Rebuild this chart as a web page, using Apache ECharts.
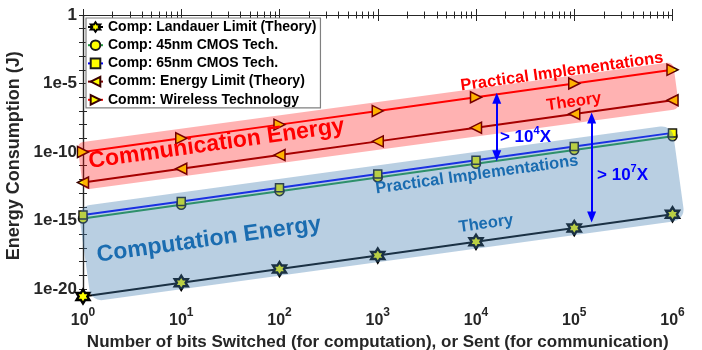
<!DOCTYPE html>
<html><head><meta charset="utf-8">
<script src="https://cdn.jsdelivr.net/npm/echarts@6/dist/echarts.min.js"></script>
<style>html,body{margin:0;padding:0;background:#fff}#c{width:702px;height:350px}</style>
</head><body><div id="c"></div>
<script>
// ---------- data ----------
const bitsSwitched   = [1, 10, 100, 1000, 10000, 100000, 1000000];
const landauerLimit  = [2.87e-21, 2.87e-20, 2.87e-19, 2.87e-18, 2.87e-17, 2.87e-16, 2.87e-15];
const cmos45nm       = [1.4e-15, 1.4e-14, 1.4e-13, 1.4e-12, 1.4e-11, 1.4e-10, 1.4e-9];
const cmos65nm       = [2.5e-15, 2.5e-14, 2.5e-13, 2.5e-12, 2.5e-11, 2.5e-10, 2.5e-9];
const commLimit      = [6e-13, 6e-12, 6e-11, 6e-10, 6e-9, 6e-8, 6e-7];
const wirelessTech   = [1e-10, 1e-9, 1e-8, 1e-7, 1e-6, 1e-5, 1e-4];
const xTickExponents = [0, 1, 2, 3, 4, 5, 6];
const yTickLabels    = ['1', '1e-5', '1e-10', '1e-15', '1e-20'];
const yTickLabelExp  = [0, -5, -10, -15, -20];
const yMinEnergy = 2.87e-21, yMaxEnergy = 1;

// ---------- annotation layout (log10 coordinates) ----------
const bands = [
  {tl: [-0.061, -9.33], tr: [6.005, -3.43], bl: [0.0, -12.755], color: 'rgba(255,0,0,0.30)', r: 6},
  {tl: [-0.051, -13.99], tr: [5.995, -8.02], bl: [0.081, -20.92], color: 'rgba(70,130,180,0.38)', r: 12}
];
const notes = [
  {text: 'Communication Energy', at: [1.359, -9.402], color: '#ff0000', size: 23, rot: true},
  {text: 'Computation Energy', at: [1.282, -16.40], color: '#1a6cb0', size: 23, rot: true},
  {text: 'Practical Implementations', at: [4.875, -4.155], color: '#ff0000', size: 16.5, rot: true},
  {text: 'Theory', at: [4.997, -6.341], color: '#ff0000', size: 16.5, rot: true},
  {text: 'Practical Implementations', at: [4.010, -11.662], color: '#1a6cb0', size: 16.5, rot: true},
  {text: 'Theory', at: [4.102, -15.233], color: '#1a6cb0', size: 16.5, rot: true},
  {rich: ['> 10', '4', 'X'], at: [4.244, -8.819], color: '#0000ff', size: 17, rot: false},
  {rich: ['> 10', '7', 'X'], at: [5.232, -11.589], color: '#0000ff', size: 17, rot: false}
];
const arrows = [
  [[4.211, -6.07], [4.211, -10.28]],
  [[5.177, -7.52], [5.177, -14.74]]
];

const FONT = '"Liberation Sans", Arial, sans-serif';
const AXC = '#262626';
const toLog = arr => bitsSwitched.map((x, i) => [Math.log10(x), Math.log10(arr[i])]);
const minorX = [];
for (let n = 0; n < 6; n++) for (let k = 2; k <= 9; k++) minorX.push(n + Math.log10(k));
const decadesY = [];
for (let e = 0; e >= -20; e--) decadesY.push(e);

const hexagram = 'path://M0,-1L0.2887,-0.5L0.866,-0.5L0.577,0L0.866,0.5L0.2887,0.5L0,1L-0.2887,0.5L-0.866,0.5L-0.577,0L-0.866,-0.5L-0.2887,-0.5Z';

function lineSeries(name, arr, color, symbol, size, rot, extra) {
  return Object.assign({
    name, type: 'line', data: toLog(arr), z: 2,
    lineStyle: {color, width: 2},
    itemStyle: {color: '#ffff00', borderColor: '#1a1a1a', borderWidth: 1.5},
    color: color,
    symbol, symbolSize: size, symbolRotate: rot, showSymbol: true,
    emphasis: {disabled: true}
  }, extra || {});
}

const chart = echarts.init(document.getElementById('c'), null, {renderer: 'canvas'});
const xBase = {type: 'value', min: 0, max: 6, splitLine: {show: false}, gridIndex: 0};
const option = {
  animation: false,
  backgroundColor: '#fff',
  grid: {left: 83, right: 29.5, top: 15, bottom: 53.5, containLabel: false, outerBoundsMode: 'none'},
  legend: {
    left: 86, top: 18, orient: 'vertical',
    data: ['Comp: Landauer Limit (Theory)', 'Comp: 45nm CMOS Tech.', 'Comp: 65nm CMOS Tech.',
           'Comm: Energy Limit (Theory)', 'Comm: Wireless Technology'],
    itemWidth: 15, itemHeight: 12, itemGap: 4.2,
    padding: [2, 4, 1, 1],
    borderColor: '#808080', borderWidth: 1.2, backgroundColor: '#fff',
    textStyle: {fontFamily: FONT, fontWeight: 'bold', fontSize: 14, color: '#000'}
  },
  xAxis: [
    Object.assign({}, xBase, {
      position: 'bottom',
      name: 'Number of bits Switched (for computation), or Sent (for communication)',
      nameLocation: 'middle', nameGap: 37,
      nameTextStyle: {fontFamily: FONT, fontWeight: 'bold', fontSize: 17, color: AXC},
      axisLine: {show: true, lineStyle: {color: '#999', width: 1}},
      axisTick: {show: true, inside: true, length: 6, customValues: xTickExponents, lineStyle: {color: AXC}},
      axisLabel: {
        customValues: xTickExponents, margin: 10,
        formatter: v => '{b|10}{s|' + v + '}',
        rich: {
          b: {fontFamily: FONT, fontWeight: 'bold', fontSize: 16, color: AXC, lineHeight: 22, verticalAlign: 'bottom'},
          s: {fontFamily: FONT, fontWeight: 'bold', fontSize: 12, color: AXC, lineHeight: 12, verticalAlign: 'top'}
        }
      }
    }),
    Object.assign({}, xBase, {
      position: 'bottom', axisLine: {show: false}, axisLabel: {show: false},
      axisTick: {show: true, inside: true, length: 3.5, customValues: minorX, lineStyle: {color: AXC}}
    }),
    Object.assign({}, xBase, {
      position: 'top', axisLine: {show: true, lineStyle: {color: AXC, width: 1.2}}, axisLabel: {show: false},
      axisTick: {show: true, inside: true, length: 6, customValues: xTickExponents, lineStyle: {color: AXC}}
    }),
    Object.assign({}, xBase, {
      position: 'top', axisLine: {show: false}, axisLabel: {show: false},
      axisTick: {show: true, inside: true, length: 3.5, customValues: minorX, lineStyle: {color: AXC}}
    })
  ],
  yAxis: [
    {
      type: 'value', min: Math.log10(yMinEnergy), max: Math.log10(yMaxEnergy), position: 'left',
      splitLine: {show: false},
      name: 'Energy Consumption (J)', nameLocation: 'middle', nameGap: 43,
      nameTextStyle: {fontFamily: FONT, fontWeight: 'bold', fontSize: 18, color: AXC},
      axisLine: {show: true, lineStyle: {color: AXC, width: 1.2}},
      axisTick: {show: true, inside: true, length: 4, customValues: decadesY, lineStyle: {color: AXC}},
      axisLabel: {
        customValues: yTickLabelExp, margin: 6, padding: [4, 0, 0, 0],
        formatter: v => yTickLabels[yTickLabelExp.indexOf(Math.round(v))] || '',
        fontFamily: FONT, fontWeight: 'bold', fontSize: 17, color: AXC
      }
    },
    {
      type: 'value', min: Math.log10(yMinEnergy), max: Math.log10(yMaxEnergy), position: 'right',
      splitLine: {show: false},
      axisLine: {show: true, lineStyle: {color: AXC, width: 1.2}},
      axisTick: {show: true, inside: true, length: 4, customValues: decadesY, lineStyle: {color: AXC}},
      axisLabel: {show: false}
    }
  ],
  series: [
    lineSeries('Comp: Landauer Limit (Theory)', landauerLimit, '#000000', hexagram, [13, 14], 0, {
      itemStyle: {color: '#ffff00', borderColor: '#000', borderWidth: 2.4},
      markLine: {
        silent: true, symbol: ['triangle', 'triangle'], symbolSize: [9, 11],
        lineStyle: {color: '#0000ff', width: 2, type: 'solid'},
        label: {show: false},
        data: arrows.map(a => [{coord: a[0]}, {coord: a[1]}])
      }
    }),
    lineSeries('Comp: 45nm CMOS Tech.', cmos45nm, '#1f9a3f', 'circle', 9, 0),
    lineSeries('Comp: 65nm CMOS Tech.', cmos65nm, '#0000ff', 'rect', 8, 0),
    lineSeries('Comm: Energy Limit (Theory)', commLimit, '#800000', 'triangle', 11, 90,
      {itemStyle: {color: '#ffff00', borderColor: '#3a0000', borderWidth: 1.5}}),
    lineSeries('Comm: Wireless Technology', wirelessTech, '#ff0000', 'triangle', 11, -90,
      {itemStyle: {color: '#ffff00', borderColor: '#3a0000', borderWidth: 1.5}}),
    {
      type: 'custom', z: 3, clip: false, silent: true,
      data: bands.map(b => [b.tl[0], b.tl[1]]),
      renderItem: function (params, api) {
        const b = bands[params.dataIndex];
        const p0 = api.coord(b.tl), p1 = api.coord(b.tr), p2 = api.coord(b.bl);
        const dx = p1[0] - p0[0], dy = p1[1] - p0[1];
        const w = Math.hypot(dx, dy);
        const ux = dx / w, uy = dy / w;
        const h = (p2[0] - p0[0]) * (-uy) + (p2[1] - p0[1]) * ux;
        return {
          type: 'rect', x: p0[0], y: p0[1], rotation: Math.atan2(-dy, dx),
          shape: {x: 0, y: 0, width: w, height: h, r: b.r},
          style: {fill: b.color}
        };
      }
    },
    {
      type: 'custom', z: 4, clip: false, silent: true,
      data: notes.map(n => [n.at[0], n.at[1]]),
      renderItem: function (params, api) {
        const n = notes[params.dataIndex];
        const p = api.coord(n.at);
        const c0 = api.coord([0, -10]), c1 = api.coord([1, -9]);
        const ang = n.rot ? Math.atan2(-(c1[1] - c0[1]), c1[0] - c0[0]) : 0;
        const style = n.rich ? {
          text: '{a|' + n.rich[0] + '}{s|' + n.rich[1] + '}{a|' + n.rich[2] + '}',
          rich: {
            a: {fontFamily: FONT, fontWeight: 'bold', fontSize: n.size, fill: n.color, color: n.color, lineHeight: 20, verticalAlign: 'bottom'},
            s: {fontFamily: FONT, fontWeight: 'bold', fontSize: 11, fill: n.color, color: n.color, lineHeight: 11, verticalAlign: 'top'}
          },
          align: 'left', verticalAlign: 'middle'
        } : {
          text: n.text, fill: n.color,
          font: 'bold ' + n.size + 'px ' + FONT,
          align: 'center', verticalAlign: 'middle'
        };
        return {type: 'text', x: p[0], y: p[1], rotation: ang, style};
      }
    }
  ]
};
chart.setOption(option);
</script>
</body></html>
